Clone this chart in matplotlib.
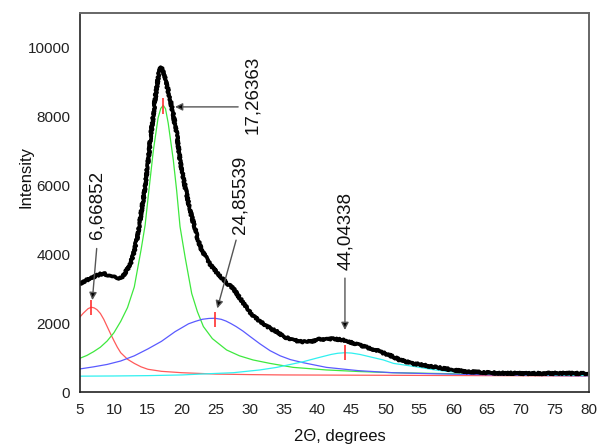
import matplotlib
matplotlib.use("Agg")
import matplotlib.pyplot as plt

plt.rcParams['font.family'] = ['Liberation Sans', 'DejaVu Sans']

x_meas = [5, 6, 7, 8, 8.5, 9, 10, 10.9, 11.4, 11.9, 12.4, 12.9, 13.4, 13.85, 14.6, 15.3,
          16.05, 16.5, 16.8, 17.1, 17.5, 18.26, 18.7, 19.24, 19.74, 20.5, 21.2, 22,
          22.7, 23.5, 24.2, 25.1, 26, 27, 27.6, 28.3, 29.1, 30, 30.7, 31.5, 33, 34, 35,
          36.4, 37.5, 38.9, 40, 41.3, 42.5, 43.8, 45, 46.25, 47.5, 48.7, 50, 51.2, 52,
          54, 55, 57, 60, 62, 65, 67, 70, 75, 80]
y_meas = [3150, 3250, 3340, 3420, 3440, 3400, 3340, 3290, 3380, 3540, 3700, 4020, 4450,
          4990, 5950, 7200, 8470, 9100, 9430, 9380, 9150, 8520, 8100, 7500, 6730, 5950,
          5280, 4700, 4220, 3920, 3700, 3480, 3280, 3100, 3000, 2800, 2570, 2330, 2180,
          2060, 1850, 1750, 1600, 1510, 1460, 1460, 1520, 1540, 1550, 1500, 1440, 1360,
          1280, 1210, 1110, 1020, 940, 830, 800, 730, 640, 590, 560, 545, 540, 540, 540]

# fitted components
x_red = [5, 5.5, 6.2, 6.67, 7.1, 7.5, 8, 8.5, 9, 9.5, 10, 10.5, 11, 12, 13, 14, 15, 17,
         20, 25, 30, 35, 50, 65, 80]
y_red = [2180, 2290, 2420, 2460, 2440, 2390, 2280, 2110, 1900, 1690, 1490, 1300, 1140,
         950, 830, 730, 660, 600, 560, 520, 505, 495, 485, 475, 465]

x_green = [5, 6, 7, 8, 9, 10, 11, 12, 13, 14, 14.6, 15.1, 15.8, 16.5, 16.9, 17.27, 17.6,
           18, 18.75, 19.24, 19.74, 20.5, 21.46, 22.3, 23.18, 24.5, 26.6, 28.5, 30.5,
           33, 36.4, 41.3, 46, 51.2, 60, 70, 80]
y_green = [980, 1060, 1170, 1300, 1480, 1720, 2050, 2450, 3050, 4130, 4850, 5760, 7000,
           7950, 8230, 8320, 8220, 7800, 6730, 5850, 4800, 3900, 2860, 2330, 1900, 1550,
           1220, 1050, 930, 830, 715, 640, 595, 560, 530, 505, 480]

x_blue = [5, 7, 9, 11, 13, 15, 17, 19, 21, 22, 23, 24, 24.86, 25.8, 26.5, 27.2, 28, 29,
          30, 31.5, 33, 34.5, 36, 37.9, 41.3, 46, 51, 57, 65, 73, 80]
y_blue = [670, 730, 800, 900, 1050, 1250, 1470, 1750, 1980, 2050, 2110, 2135, 2140, 2110,
          2060, 1990, 1900, 1770, 1620, 1400, 1200, 1050, 940, 850, 715, 620, 560, 530,
          500, 480, 470]

x_cyan = [5, 10, 15, 20, 22.7, 27.6, 31.5, 34, 37.9, 40, 42, 43, 44.04, 45, 46.25, 48.7,
          49.7, 51.2, 54.6, 57, 59.5, 63, 67, 72, 80]
y_cyan = [460, 465, 475, 495, 520, 560, 640, 715, 880, 990, 1090, 1125, 1140, 1130, 1090,
          976, 930, 830, 730, 650, 590, 545, 520, 500, 480]

# fitted peak positions / heights and their labels
peak_pos = [6.66852, 17.26363, 24.85539, 44.04338]
peak_val = [2450, 8300, 2110, 1145]
peak_txt = ["6,66852", "17,26363", "24,85539", "44,04338"]
# text centre and arrow start/end (data units)
txt_xy = [(7.5, 5420), (30.5, 8610), (28.6, 5713), (44.2, 4669)]
arr_from = [(7.46, 4165), (28.3, 8275), (28.0, 4408), (44.04, 3306)]
arr_to = [(6.82, 2668), (19.0, 8275), (25.23, 2427), (44.04, 1800)]

fig = plt.figure(figsize=(6.02, 4.48), dpi=100)
ax = fig.add_axes([80/602, 1 - 392/448, 509/602, 379/448])

ax.plot(x_red, y_red, color='#ff5a5a', lw=0.9)
ax.plot(x_green, y_green, color='#3ee83e', lw=0.9)
ax.plot(x_blue, y_blue, color='#5a5aff', lw=0.9)
ax.plot(x_cyan, y_cyan, color='#30f0f0', lw=0.9)
meas, = ax.plot(x_meas, y_meas, color='black', lw=2.7, solid_joinstyle='round')
meas.set_sketch_params(scale=1.0, length=2.0, randomness=2.0)

ax.vlines(peak_pos, [v - 220 for v in peak_val], [v + 220 for v in peak_val],
          colors='#ff3030', lw=1.2, zorder=5)

for t, (tx, ty), a0, a1 in zip(peak_txt, txt_xy, arr_from, arr_to):
    ax.text(tx, ty, t, rotation=90, ha='center', va='center', fontsize=13.5,
            color='#111111')
    ax.annotate("", xy=a1, xytext=a0,
                arrowprops=dict(arrowstyle='-|>', color='#555555', fc='black',
                                lw=1.0, mutation_scale=11, shrinkA=0, shrinkB=0))

ax.set_xlim(5, 80)
ax.set_ylim(0, 11000)
ax.set_xticks(range(5, 81, 5))
ax.set_yticks(range(0, 10001, 2000))
ax.tick_params(length=0, labelsize=11, colors='#222222')
ax.tick_params(axis='x', pad=8)
ax.tick_params(axis='y', pad=7)

for s in ['left', 'bottom']:
    ax.spines[s].set_color('#222222')
    ax.spines[s].set_linewidth(1.2)
for s in ['top', 'right']:
    ax.spines[s].set_color('#666666')
    ax.spines[s].set_linewidth(1.4)

ax.set_xlabel("2\u0398, degrees", fontsize=12, color='#111111')
ax.set_ylabel("Intensity", fontsize=12, color='#111111')
ax.xaxis.set_label_coords(0.511, -0.098)
ax.yaxis.set_label_coords(-0.092, 0.567)

fig.savefig("out.png", dpi=100)
